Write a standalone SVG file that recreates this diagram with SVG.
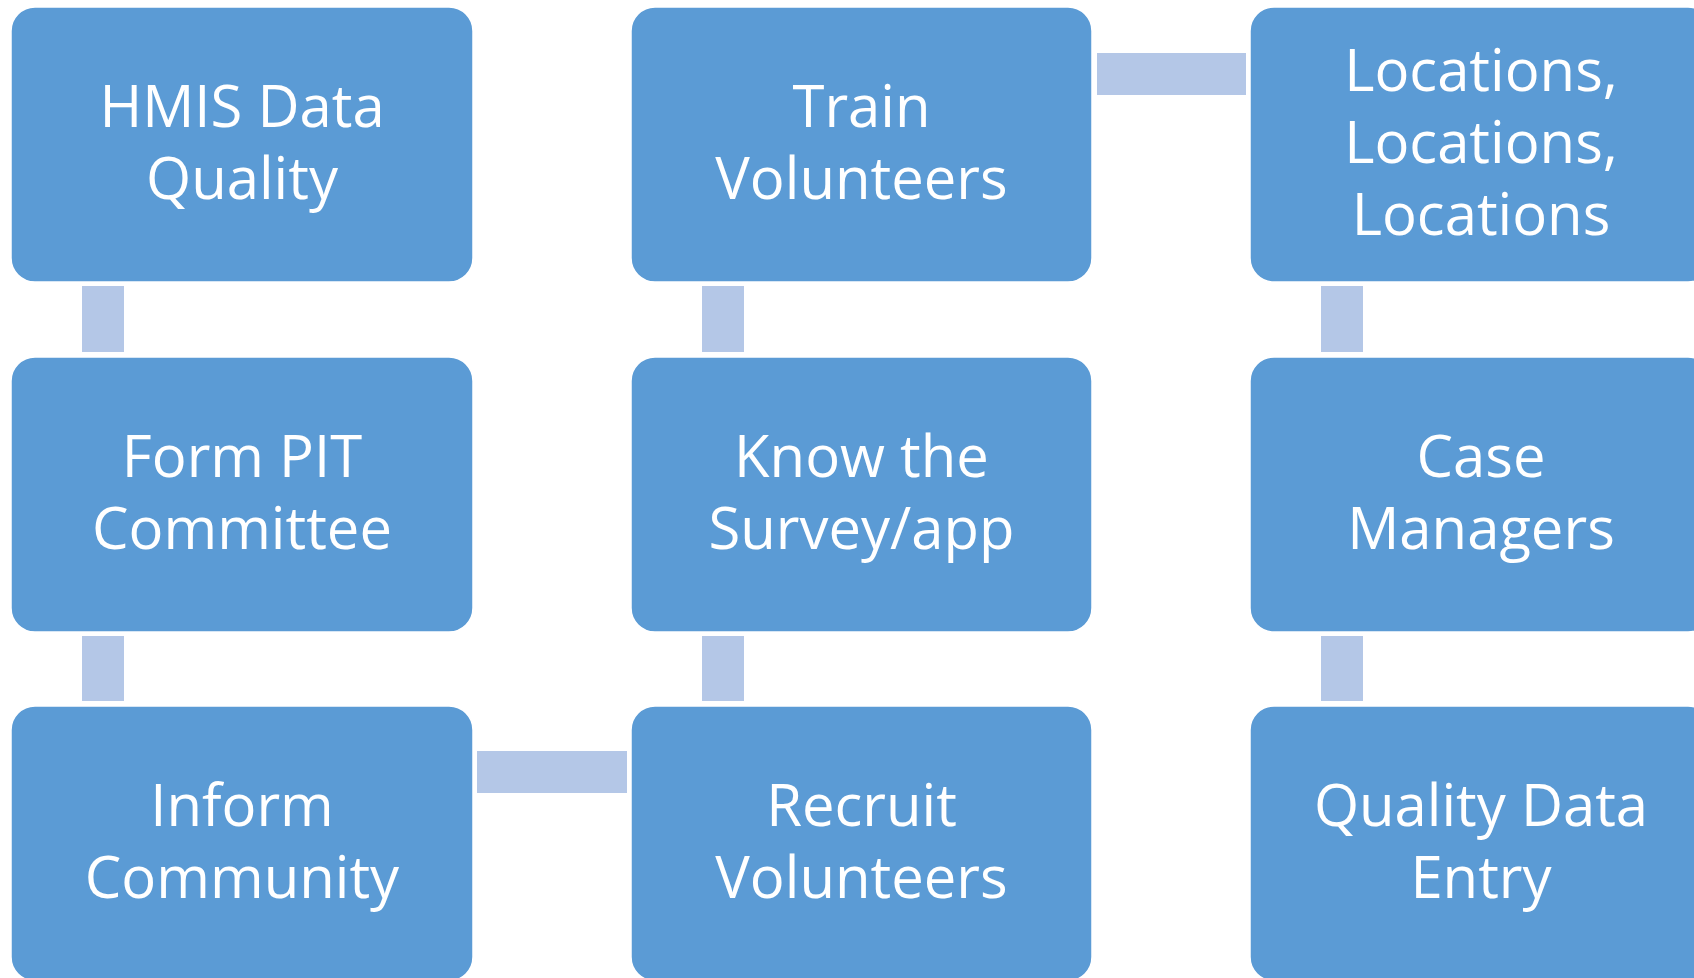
<svg xmlns="http://www.w3.org/2000/svg" width="1694" height="978" viewBox="0 0 1694 978">
<style>
.box{fill:#5B9BD5;stroke:#ffffff;stroke-width:1.5}
.con{fill:#B4C7E7}
.t{font-family:"Open Sans","Liberation Sans",sans-serif;font-size:58px;fill:#ffffff;text-anchor:middle}
</style>
<rect width="1694" height="978" fill="#ffffff"/>
<g id="connectors">
<rect class="con" x="82" y="286" width="42" height="66"/>
<rect class="con" x="82" y="636" width="42" height="65"/>
<rect class="con" x="477" y="751" width="150" height="42"/>
<rect class="con" x="702" y="636" width="42" height="65"/>
<rect class="con" x="702" y="286" width="42" height="66"/>
<rect class="con" x="1097" y="53" width="149" height="42"/>
<rect class="con" x="1321" y="286" width="42" height="66"/>
<rect class="con" x="1321" y="636" width="42" height="65"/>
</g>
<g id="n1"><rect class="box" x="11" y="7" width="462" height="275" rx="24"/>
<text class="t" x="242"><tspan x="242" y="126.5">HMIS Data</tspan><tspan x="242" y="198.5">Quality</tspan></text></g>
<g id="n2"><rect class="box" x="11" y="357" width="462" height="275" rx="24"/>
<text class="t"><tspan x="242" y="476.5">Form PIT</tspan><tspan x="242" y="548.5">Committee</tspan></text></g>
<g id="n3"><rect class="box" x="11" y="706" width="462" height="275" rx="24"/>
<text class="t"><tspan x="242" y="825.5">Inform</tspan><tspan x="242" y="897.5">Community</tspan></text></g>
<g id="n4"><rect class="box" x="631" y="706" width="461" height="275" rx="24"/>
<text class="t"><tspan x="861.5" y="825.5">Recruit</tspan><tspan x="861.5" y="897.5">Volunteers</tspan></text></g>
<g id="n5"><rect class="box" x="631" y="357" width="461" height="275" rx="24"/>
<text class="t"><tspan x="861.5" y="476.5">Know the</tspan><tspan x="861.5" y="548.5">Survey/app</tspan></text></g>
<g id="n6"><rect class="box" x="631" y="7" width="461" height="275" rx="24"/>
<text class="t"><tspan x="861.5" y="126.5">Train</tspan><tspan x="861.5" y="198.5">Volunteers</tspan></text></g>
<g id="n7"><rect class="box" x="1250" y="7" width="462" height="275" rx="24"/>
<text class="t"><tspan x="1481" y="90.5">Locations,</tspan><tspan x="1481" y="162.5">Locations,</tspan><tspan x="1481" y="234.5">Locations</tspan></text></g>
<g id="n8"><rect class="box" x="1250" y="357" width="462" height="275" rx="24"/>
<text class="t"><tspan x="1481" y="476.5">Case</tspan><tspan x="1481" y="548.5">Managers</tspan></text></g>
<g id="n9"><rect class="box" x="1250" y="706" width="462" height="275" rx="24"/>
<text class="t"><tspan x="1481" y="825.5">Quality Data</tspan><tspan x="1481" y="897.5">Entry</tspan></text></g>
</svg>
